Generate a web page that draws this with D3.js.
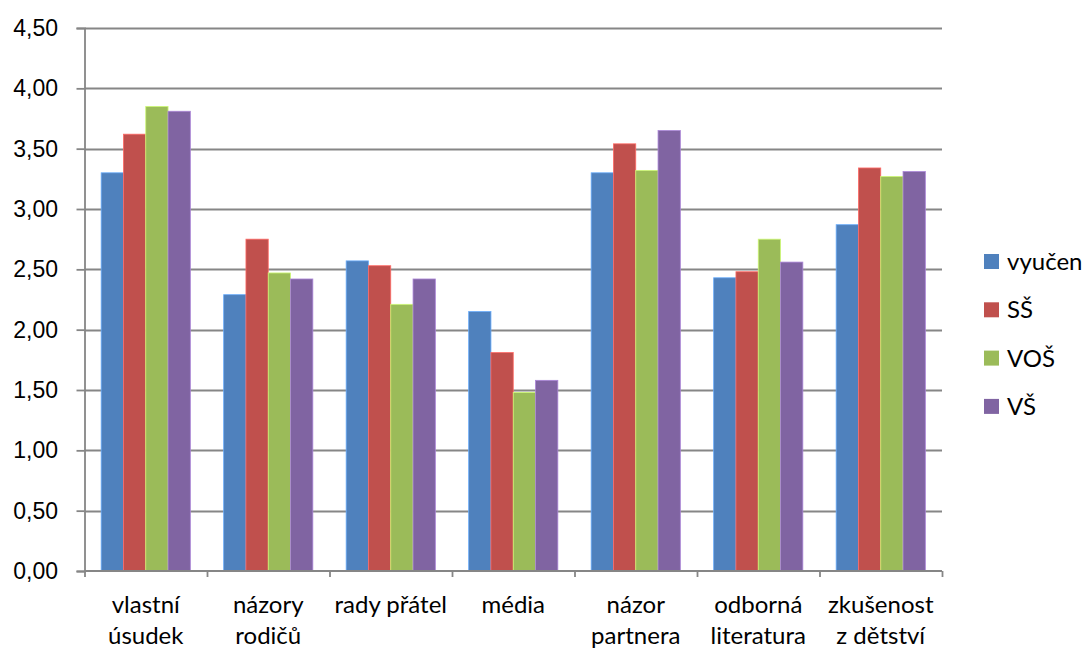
<!DOCTYPE html>
<html>
<head>
<meta charset="utf-8">
<script src="https://cdn.jsdelivr.net/npm/d3@7"></script>
<style>
  html, body { margin: 0; padding: 0; background: #fff; }
  svg { display: block; font-family: Lato, "Open Sans", sans-serif; }
</style>
</head>
<body>
<svg id="chart" width="1084" height="649"></svg>
<script>
// Categories (two-line labels) and series
const categories = [
  ["vlastní", "úsudek"],
  ["názory", "rodičů"],
  ["rady přátel"],
  ["média"],
  ["názor", "partnera"],
  ["odborná", "literatura"],
  ["zkušenost", "z dětství"]
];
const seriesNames = ["vyučen", "SŠ", "VOŠ", "VŠ"];
const seriesColors = ["#4f81bd", "#c0504d", "#9bbb59", "#8064a2"];

const vyucen = [3.30, 2.29, 2.57, 2.15, 3.30, 2.43, 2.87];
const SS     = [3.62, 2.75, 2.53, 1.81, 3.54, 2.48, 3.34];
const VOS    = [3.85, 2.47, 2.21, 1.48, 3.32, 2.75, 3.27];
const VS     = [3.81, 2.42, 2.42, 1.58, 3.65, 2.56, 3.31];
const seriesValues = [vyucen, SS, VOS, VS];

const yTicks = [0, 0.5, 1, 1.5, 2, 2.5, 3, 3.5, 4, 4.5];

const svg = d3.select("#chart");
const plot = { left: 84.5, right: 942, top: 28, bottom: 571 };
const gridColor = "#868686";
const tickFont = "23px";
const labelFont = "24px";

const x = d3.scaleBand()
  .domain(d3.range(categories.length))
  .range([plot.left, plot.right])
  .padding(0);

const bw = x.bandwidth();
const gap = bw * 0.136;
const xs = d3.scaleBand()
  .domain(d3.range(seriesNames.length))
  .range([gap, bw - gap])
  .padding(0);

const y = d3.scaleLinear().domain([0, 4.5]).range([plot.bottom, plot.top]);

// Horizontal gridlines
svg.append("g")
  .selectAll("line")
  .data(yTicks.filter(t => t > 0))
  .join("line")
  .attr("x1", plot.left).attr("x2", plot.right)
  .attr("y1", d => Math.round(y(d)) + 0.5).attr("y2", d => Math.round(y(d)) + 0.5)
  .attr("stroke", gridColor).attr("stroke-width", 1.8);

// Bars
const groups = svg.append("g")
  .selectAll("g")
  .data(categories)
  .join("g")
  .attr("transform", (d, i) => `translate(${x(i)},0)`);

groups.selectAll("rect")
  .data((d, i) => seriesValues.map((vals, s) => ({ s, v: vals[i] })))
  .join("rect")
  .attr("x", d => xs(d.s))
  .attr("width", xs.bandwidth())
  .attr("y", d => y(d.v))
  .attr("height", d => y(0) - y(d.v))
  .attr("fill", d => seriesColors[d.s])
  .attr("stroke", d => d3.color(seriesColors[d.s]).brighter(0.8))
  .attr("stroke-width", 0.8);

// Y axis
const yAxis = d3.axisLeft(y)
  .tickValues(yTicks)
  .tickSize(8)
  .tickPadding(18.5)
  .tickFormat(d => d3.format(".2f")(d).replace(".", ","));

const gy = svg.append("g")
  .attr("transform", `translate(${plot.left},0)`)
  .call(yAxis);
gy.select(".domain").attr("stroke", gridColor).attr("stroke-width", 1.8);
gy.selectAll(".tick line").attr("stroke", gridColor).attr("stroke-width", 1.8);
gy.selectAll(".tick text")
  .attr("fill", "#000")
  .style("font-size", tickFont);

// X axis with tick marks at category boundaries
const xAxisScale = d3.scaleLinear().domain([0, categories.length]).range([plot.left, plot.right]);
const gx = svg.append("g")
  .attr("transform", `translate(0,${plot.bottom})`)
  .call(d3.axisBottom(xAxisScale).tickValues(d3.range(categories.length + 1)).tickSize(6).tickFormat(""));
gx.select(".domain").attr("stroke", gridColor).attr("stroke-width", 1.8)
  .attr("d", `M${plot.left},0H${plot.right}`);
gx.selectAll(".tick line").attr("stroke", gridColor).attr("stroke-width", 1.8);

// Category labels
const labels = svg.append("g")
  .selectAll("text")
  .data(categories)
  .join("text")
  .attr("x", (d, i) => x(i) + bw / 2)
  .attr("y", 613)
  .attr("text-anchor", "middle")
  .style("font-size", labelFont)
  .attr("fill", "#000");
labels.selectAll("tspan")
  .data(d => d)
  .join("tspan")
  .attr("x", function () { return this.parentNode.getAttribute("x"); })
  .attr("dy", (d, i) => i === 0 ? 0 : 31)
  .text(d => d);

// Legend
const legend = svg.append("g")
  .selectAll("g")
  .data(seriesNames)
  .join("g")
  .attr("transform", (d, i) => `translate(984,${254 + i * 48.3})`);
legend.append("rect")
  .attr("width", 15).attr("height", 15)
  .attr("fill", (d, i) => seriesColors[i]);
legend.append("text")
  .attr("x", 23).attr("y", 7.5)
  .attr("dy", "0.35em")
  .style("font-size", labelFont)
  .attr("fill", "#000")
  .text(d => d);
</script>
</body>
</html>
